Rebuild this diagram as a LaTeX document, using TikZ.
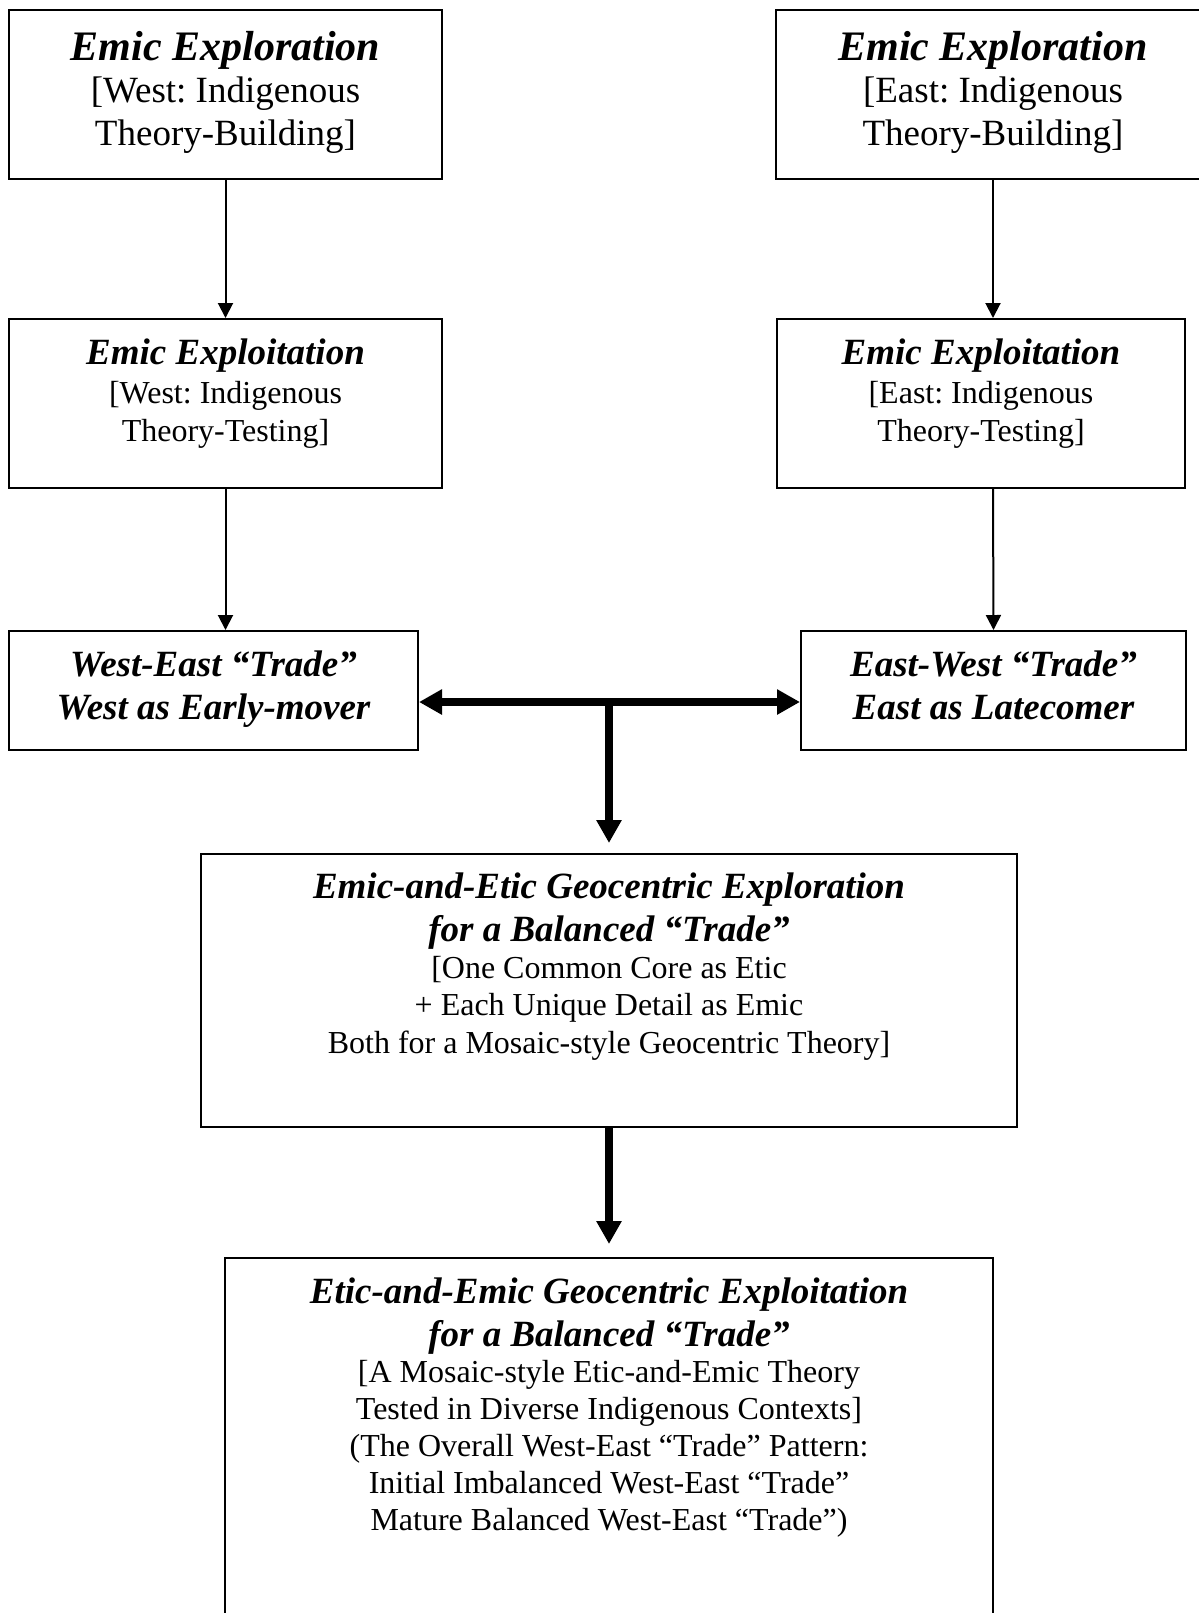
\documentclass[tikz,border=0pt]{standalone}
\usepackage{fontspec}
\setmainfont{Liberation Serif}
\usetikzlibrary{arrows.meta}
\frenchspacing
\newcommand{\stagetext}[3]{\parbox[t][#2][t]{#1}{\centering #3}}
\newcommand{\hd}[2]{{\bfseries\itshape\fontsize{#1}{\baselineskip}\selectfont #2}}

\begin{document}
\begin{tikzpicture}[x=0.5pt,y=-0.5pt,
    stage/.style={draw,line width=1pt,inner sep=0pt,anchor=north west},
    flow/.style={line width=1pt,-{Triangle[length=7.5pt,width=7.5pt]}},
    trade/.style={line width=3.8pt,-{Triangle[length=11.5pt,width=12pt]}},
    tradeboth/.style={line width=3.8pt,
      {Triangle[length=11.5pt,width=12pt]}-{Triangle[length=11.5pt,width=12pt]}}]
    \path[use as bounding box,clip] (0,0) rectangle (1199,1613);

    % west column
    \node[stage] (wtop) at (8,9) {\stagetext{216.5pt}{84.5pt}{%
      \fontsize{18.5}{21.25}\selectfont
      \rule{0pt}{25pt}\hd{21}{Emic Exploration}\\
      {[}West: Indigenous\\
      Theory-Building]}};
    \node[stage] (wexpl) at (8,318) {\stagetext{216.5pt}{84.5pt}{%
      \fontsize{16}{19}\selectfont
      \rule{0pt}{22.5pt}\hd{18.5}{Emic Exploitation}\\[0.5pt]
      {[}West: Indigenous\\
      Theory-Testing]}};
    \node[stage] (wtrade) at (8,630) {\stagetext{204.5pt}{59.5pt}{%
      \fontsize{18.5}{21.5}\selectfont\bfseries\itshape
      \rule{0pt}{22.5pt}West-East “Trade”\\
      West as Early-mover}};

    % east column
    \node[stage] (etop) at (775,9) {\stagetext{217pt}{84.5pt}{%
      \fontsize{18.5}{21.25}\selectfont
      \rule{0pt}{25pt}\hd{21}{Emic Exploration}\\
      {[}East: Indigenous\\
      Theory-Building]}};
    \node[stage] (eexpl) at (776,318) {\stagetext{204pt}{84.5pt}{%
      \fontsize{16}{19}\selectfont
      \rule{0pt}{22.5pt}\hd{18.5}{Emic Exploitation}\\[0.5pt]
      {[}East: Indigenous\\
      Theory-Testing]}};
    \node[stage] (etrade) at (800,630) {\stagetext{192.5pt}{59.5pt}{%
      \fontsize{18.5}{21.5}\selectfont\bfseries\itshape
      \rule{0pt}{22.5pt}East-West “Trade”\\
      East as Latecomer}};

    % geocentric stages
    \node[stage] (mid) at (200,853) {\stagetext{408pt}{136.5pt}{%
      \fontsize{16}{18.75}\selectfont
      \rule{0pt}{22pt}\hd{18.5}{Emic-and-Etic Geocentric Exploration}\\[2.75pt]
      \hd{18.5}{for a Balanced “Trade”}\\[-0.25pt]
      {[}One Common Core as Etic\\
      + Each Unique Detail as Emic\\
      Both for a Mosaic-style Geocentric Theory]}};
    \node[stage] (final) at (224,1257) {\stagetext{384pt}{200pt}{%
      \fontsize{16}{18.6}\selectfont
      \rule{0pt}{22.5pt}\hd{18.5}{Etic-and-Emic Geocentric Exploitation}\\[2.9pt]
      \hd{18.5}{for a Balanced “Trade”}\\[-0.6pt]
      {[}A Mosaic-style Etic-and-Emic Theory\\
      Tested in Diverse Indigenous Contexts]\\
      (The Overall West-East “Trade” Pattern:\\
      Initial Imbalanced West-East “Trade”\\
      Mature Balanced West-East “Trade”)}};

    % connectors
    \draw[flow] (wtop.south) -- (wexpl.north);
    \draw[flow] (wexpl.south) -- (wexpl.south |- wtrade.north);
    \draw[flow] (etop.south) -- (etop.south |- eexpl.north);
    \draw[flow] (eexpl.south -| etop.south) -- (etrade.north);
    \coordinate (hub) at (mid.north |- 0,702);
    \draw[tradeboth] (wtrade.east |- hub) -- (etrade.west |- hub);
    \draw[trade,shorten >=5pt] (hub) -- (mid.north);
    \draw[trade,shorten >=6.5pt] (mid.south) -- (mid.south |- final.north);
\end{tikzpicture}
\end{document}
